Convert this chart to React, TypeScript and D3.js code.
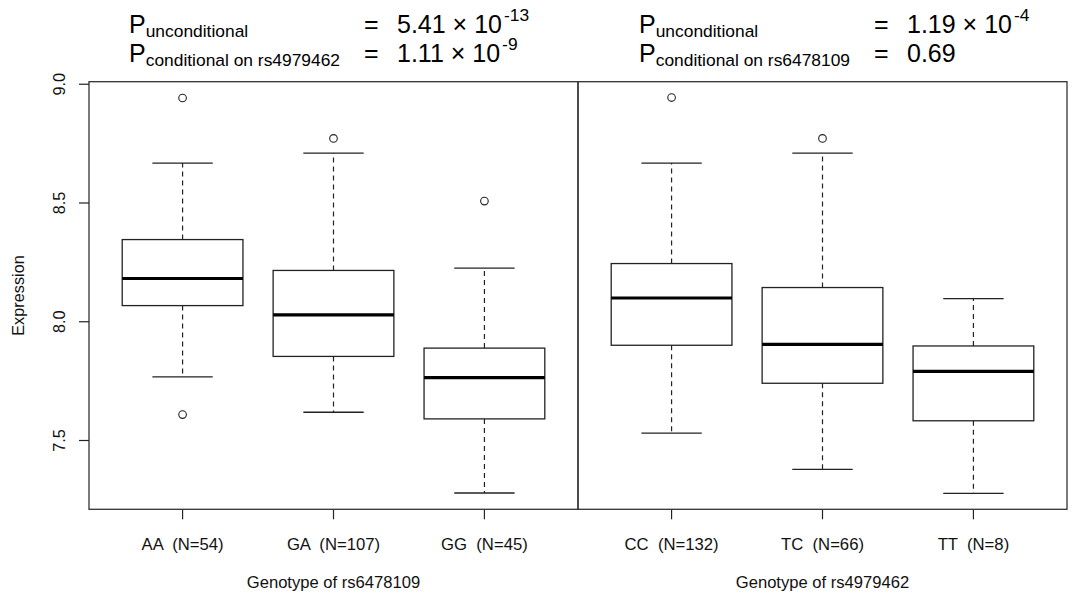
import React from "react";
import * as d3 from "d3";

// left panel: rs6478109
const leftLabels = ["AA  (N=54)", "GA  (N=107)", "GG  (N=45)"];
const leftLow = [7.768, 7.619, 7.279];
const leftQ1 = [8.068, 7.854, 7.591];
const leftMedian = [8.182, 8.029, 7.765];
const leftQ3 = [8.346, 8.216, 7.889];
const leftHigh = [8.668, 8.71, 8.226];
const leftOutliers = [[8.942, 7.609], [8.772], [8.508]];

// right panel: rs4979462
const rightLabels = ["CC  (N=132)", "TC  (N=66)", "TT  (N=8)"];
const rightLow = [7.531, 7.378, 7.277];
const rightQ1 = [7.901, 7.741, 7.583];
const rightMedian = [8.1, 7.905, 7.791];
const rightQ3 = [8.245, 8.144, 7.898];
const rightHigh = [8.668, 8.71, 8.097];
const rightOutliers = [[8.944], [8.772], []];

const yTicks = [7.5, 8.0, 8.5, 9.0];

const FONT = "'Liberation Sans', Arial, Helvetica, sans-serif";
const INK = "#222";

const W = 1072;
const H = 594;
const plotTop = 81.7;
const plotBottom = 509.3;
const panels = [
  { x0: 89, x1: 578, title: "Genotype of rs6478109", labels: leftLabels, low: leftLow, q1: leftQ1, med: leftMedian, q3: leftQ3, high: leftHigh, out: leftOutliers },
  { x0: 578, x1: 1067, title: "Genotype of rs4979462", labels: rightLabels, low: rightLow, q1: rightQ1, med: rightMedian, q3: rightQ3, high: rightHigh, out: rightOutliers },
];

const allValues = [
  ...leftLow, ...leftHigh, ...leftOutliers.flat(),
  ...rightLow, ...rightHigh, ...rightOutliers.flat(),
];
const [vMin, vMax] = d3.extent(allValues) as [number, number];
const pad = (vMax - vMin) * 0.04;
const y = d3.scaleLinear().domain([vMin - pad, vMax + pad]).range([plotBottom, plotTop]);

const Panel = ({ p }: { p: (typeof panels)[number] }) => {
  const x = d3.scaleLinear().domain([0.38, 3.62]).range([p.x0, p.x1]);
  const unit = x(2) - x(1);
  const boxW = unit * 0.8;
  const capW = boxW * 0.5;
  return (
    <g>
      {p.labels.map((lab, i) => {
        const cx = x(i + 1);
        return (
          <g key={lab}>
            {/* whiskers */}
            <line x1={cx} x2={cx} y1={y(p.q3[i])} y2={y(p.high[i])} stroke={INK} strokeWidth={1.2} strokeDasharray="5,4" />
            <line x1={cx} x2={cx} y1={y(p.q1[i])} y2={y(p.low[i])} stroke={INK} strokeWidth={1.2} strokeDasharray="5,4" />
            <line x1={cx - capW / 2} x2={cx + capW / 2} y1={y(p.high[i])} y2={y(p.high[i])} stroke={INK} strokeWidth={1.3} />
            <line x1={cx - capW / 2} x2={cx + capW / 2} y1={y(p.low[i])} y2={y(p.low[i])} stroke={INK} strokeWidth={1.3} />
            {/* box */}
            <rect x={cx - boxW / 2} y={y(p.q3[i])} width={boxW} height={y(p.q1[i]) - y(p.q3[i])} fill="white" stroke={INK} strokeWidth={1.3} />
            <line x1={cx - boxW / 2} x2={cx + boxW / 2} y1={y(p.med[i])} y2={y(p.med[i])} stroke="#000" strokeWidth={3.2} />
            {p.out[i].map((v, j) => (
              <circle key={j} cx={cx} cy={y(v)} r={3.8} fill="none" stroke={INK} strokeWidth={1.1} />
            ))}
            {/* x tick + label */}
            <line x1={cx} x2={cx} y1={plotBottom} y2={plotBottom + 10} stroke={INK} strokeWidth={1.2} />
            <text x={cx} y={550} textAnchor="middle" fontSize={16.7} style={{ whiteSpace: "pre" }} fill="#111">
              {lab}
            </text>
          </g>
        );
      })}
      <rect x={p.x0} y={plotTop} width={p.x1 - p.x0} height={plotBottom - plotTop} fill="none" stroke="#333" strokeWidth={1.3} />
      <text x={(p.x0 + p.x1) / 2} y={588} textAnchor="middle" fontSize={16.6} fill="#111">
        {p.title}
      </text>
    </g>
  );
};

const PLine = ({ x, yBase, sub, eqX, value, sup }: { x: number; yBase: number; sub: string; eqX: number; value: string; sup?: string }) => (
  <g fill="#000">
    <text x={x} y={yBase} fontSize={25}>
      P
      <tspan fontSize={17.4} dy={4}>{sub}</tspan>
    </text>
    <text x={eqX} y={yBase} fontSize={25}>=</text>
    <text x={eqX + 33} y={yBase} fontSize={25}>
      {value}
      {sup && (
        <tspan fontSize={17.4} dx={2} dy={-12}>
          {sup}
        </tspan>
      )}
    </text>
  </g>
);

export default function App() {
  return (
    <div style={{ position: "absolute", left: 0, top: 0 }}>
      <svg width={W} height={H} style={{ display: "block", fontFamily: FONT, background: "white" }}>
        {/* annotations */}
        <PLine x={129} yBase={33} sub="unconditional" eqX={364} value="5.41 × 10" sup="-13" />
        <PLine x={129} yBase={62} sub="conditional on rs4979462" eqX={364} value="1.11 × 10" sup="-9" />
        <PLine x={639} yBase={33} sub="unconditional" eqX={874} value="1.19 × 10" sup="-4" />
        <PLine x={639} yBase={62} sub="conditional on rs6478109" eqX={874} value="0.69" />

        {panels.map((p) => (
          <Panel key={p.title} p={p} />
        ))}

        {/* y axis */}
        {yTicks.map((t) => (
          <g key={t}>
            <line x1={79} x2={89} y1={y(t)} y2={y(t)} stroke={INK} strokeWidth={1.2} />
            <text transform={`translate(65,${y(t)}) rotate(-90)`} textAnchor="middle" fontSize={16.3} fill="#111">
              {d3.format(".1f")(t)}
            </text>
          </g>
        ))}
        <text transform={`translate(24,${(plotTop + plotBottom) / 2}) rotate(-90)`} textAnchor="middle" fontSize={16.3} fill="#111">
          Expression
        </text>
      </svg>
    </div>
  );
}
